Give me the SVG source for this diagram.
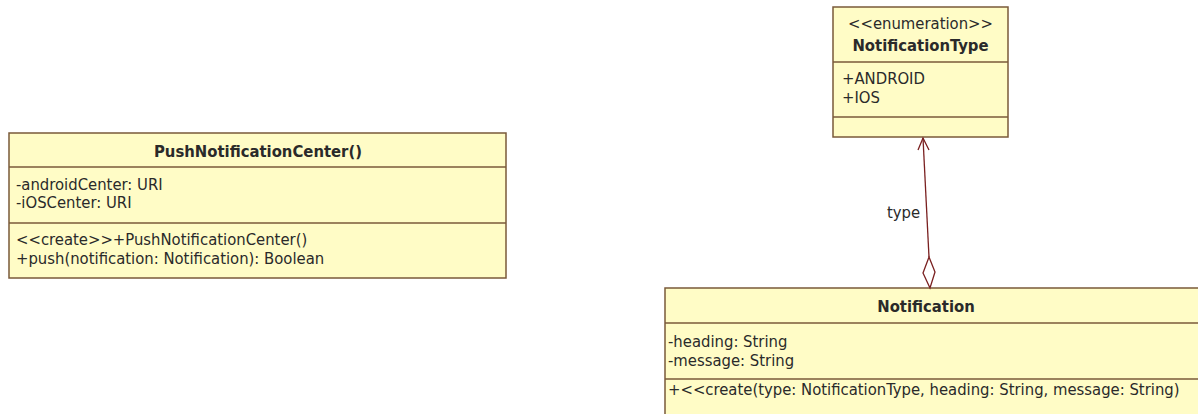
<svg xmlns="http://www.w3.org/2000/svg" width="1198" height="414" viewBox="0 0 1198 414">
<style>
.box{fill:#fffcc6;stroke:#7a5a3a;stroke-width:1.5}
.sep{stroke:#7a5a3a;stroke-width:1.5}
text{font-family:"DejaVu Sans Condensed","DejaVu Sans",sans-serif;font-size:16.5px;fill:#2a2a2a}
.t{font-weight:bold;text-anchor:middle}
.c{text-anchor:middle}
.conn{stroke:#7a2020;stroke-width:1.3;fill:none}
</style>
<rect width="1198" height="414" fill="#ffffff"/>
<g id="PushNotificationCenter">
<rect class="box" x="9" y="133" width="497" height="145"/>
<line class="sep" x1="9" y1="167" x2="506" y2="167"/>
<line class="sep" x1="9" y1="223" x2="506" y2="223"/>
<text class="t" x="258" y="157">PushNotificationCenter()</text>
<text x="16" y="190">-androidCenter: URI</text>
<text x="16" y="208">-iOSCenter: URI</text>
<text x="16" y="245">&lt;&lt;create&gt;&gt;+PushNotificationCenter()</text>
<text x="16" y="264">+push(notification: Notification): Boolean</text>
</g>
<g id="NotificationType">
<rect class="box" x="833" y="7" width="175" height="130"/>
<line class="sep" x1="833" y1="62" x2="1008" y2="62"/>
<line class="sep" x1="833" y1="117" x2="1008" y2="117"/>
<text class="c" x="920.5" y="29">&lt;&lt;enumeration&gt;&gt;</text>
<text class="t" x="920.5" y="51">NotificationType</text>
<text x="842" y="84">+ANDROID</text>
<text x="842" y="103">+IOS</text>
</g>
<g id="Notification">
<rect class="box" x="665" y="288" width="545" height="140"/>
<line class="sep" x1="665" y1="323" x2="1210" y2="323"/>
<line class="sep" x1="665" y1="379" x2="1210" y2="379"/>
<text class="t" x="926" y="312">Notification</text>
<text x="668" y="347">-heading: String</text>
<text x="668" y="366">-message: String</text>
<text x="668" y="395">+&lt;&lt;create(type: NotificationType, heading: String, message: String)</text>
</g>
<g id="connectors">
<path class="conn" d="M923,138 L929,257"/>
<path class="conn" d="M918,150 L923,138 L929,150"/>
<path class="conn" d="M929,257 L935,272 L930,288 L923,273 Z" style="fill:#ffffff"/>
<text x="887" y="218">type</text>
</g>
</svg>
